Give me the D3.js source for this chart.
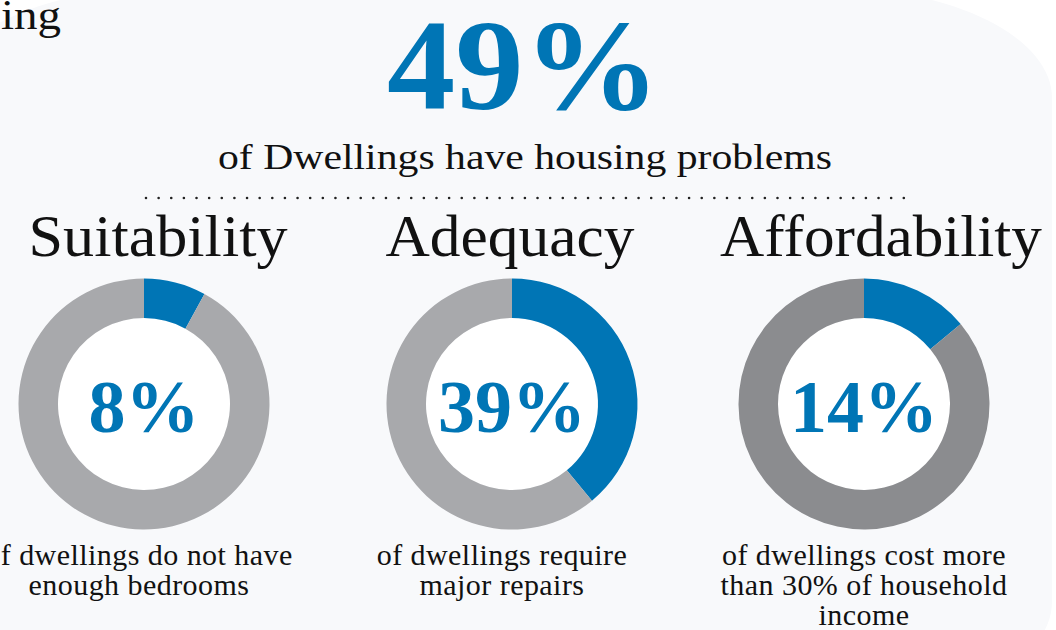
<!DOCTYPE html>
<html lang="en">
<head>
    <meta charset="UTF-8">
    <title>Housing problems</title>
    <style>
        body{
            margin:0px;
            background-color:#ffffff;
            overflow:hidden;
        }
        svg{
            display:block;
            font-family:"Liberation Serif", "DejaVu Serif", serif;
        }
    </style>
</head>
<body>
    <svg></svg>

    <script src="https://d3js.org/d3.v7.min.js"></script>
    <script>
        // Data
        const categories = ["Suitability", "Adequacy", "Affordability"];
        const shares = [8, 39, 14];
        const captions = [
            ["of dwellings do not have", "enough bedrooms"],
            ["of dwellings require", "major repairs"],
            ["of dwellings cost more", "than 30% of household", "income"]
        ];
        const headline = 49;
        const headlineLabel = "of Dwellings have housing problems";
        const cutWord = "ing";

        // colours
        const blue = "#0075b5";
        const restColors = ["#a8a9ac", "#a8a9ac", "#8b8c8f"];

        let width = 1056, height = 630;

        let svg = d3.select("svg")
            .attr("width", width)
            .attr("height", height);

        // light panel with rounded right corners
        svg.append("rect")
            .attr("x", -60).attr("y", -12)
            .attr("width", 1112).attr("height", 724)
            .attr("rx", 220).attr("ry", 110)
            .attr("fill", "#f8f9fb");

        // word cut at the top left edge
        svg.append("text")
            .attr("x", 1).attr("y", 29)
            .attr("font-size", 42)
            .attr("fill", "#111")
            .attr("textLength", 60)
            .attr("lengthAdjust", "spacingAndGlyphs")
            .text(cutWord);

        // headline
        svg.append("text")
            .attr("x", 387).attr("y", 109)
            .attr("font-size", 130)
            .attr("font-weight", "bold")
            .attr("fill", blue)
            .attr("textLength", 273)
            .attr("lengthAdjust", "spacingAndGlyphs")
            .text(headline + "%");

        svg.append("text")
            .attr("x", 218).attr("y", 169)
            .attr("font-size", 35)
            .attr("fill", "#111")
            .attr("textLength", 614)
            .attr("lengthAdjust", "spacingAndGlyphs")
            .text(headlineLabel);

        // dotted rule
        svg.append("line")
            .attr("x1", 146).attr("x2", 904)
            .attr("y1", 198).attr("y2", 198)
            .attr("stroke", "#222")
            .attr("stroke-width", 2.6)
            .attr("stroke-linecap", "round")
            .attr("stroke-dasharray", "0 12.63");

        // layout
        const cx = d3.scaleOrdinal().domain(categories).range([144, 512, 864]);
        const titleX = d3.scaleOrdinal().domain(categories).range([158, 510, 881]);
        const titleW = d3.scaleOrdinal().domain(categories).range([259, 249, 322]);
        const capX = d3.scaleOrdinal().domain(categories).range([139, 502, 864]);
        const cy = 404, rOuter = 125.5, rInner = 86;

        const pie = d3.pie().sort(null).value(d => d);
        const arc = d3.arc().innerRadius(rInner).outerRadius(rOuter);

        const groups = svg.selectAll("g.item")
            .data(categories)
            .enter()
            .append("g")
            .attr("class", "item");

        // titles
        groups.append("text")
            .attr("x", d => titleX(d))
            .attr("y", 256)
            .attr("text-anchor", "middle")
            .attr("font-size", 59)
            .attr("fill", "#111")
            .attr("textLength", d => titleW(d))
            .attr("lengthAdjust", "spacingAndGlyphs")
            .text(d => d);

        // donuts
        const donut = groups.append("g")
            .attr("transform", d => `translate(${cx(d)},${cy})`);

        donut.append("circle")
            .attr("r", rInner)
            .attr("fill", "#ffffff");

        donut.selectAll("path")
            .data((d, i) => pie([shares[i], 100 - shares[i]]).map(a => ({arc: a, i: i})))
            .enter()
            .append("path")
            .attr("d", d => arc(d.arc))
            .attr("fill", d => d.arc.index === 0 ? blue : restColors[d.i]);

        donut.append("text")
            .attr("y", 28)
            .attr("text-anchor", "middle")
            .attr("font-size", 74)
            .attr("font-weight", "bold")
            .attr("fill", blue)
            .text((d, i) => shares[i] + "%");

        // captions
        groups.each(function(d, i) {
            d3.select(this).append("text")
                .attr("text-anchor", "middle")
                .attr("font-size", 30)
                .attr("letter-spacing", 0.45)
                .attr("fill", "#111")
                .selectAll("tspan")
                .data(captions[i])
                .enter()
                .append("tspan")
                .attr("x", capX(d))
                .attr("y", (line, j) => 565 + j * 30)
                .text(line => line);
        });
    </script>
</body>
</html>
